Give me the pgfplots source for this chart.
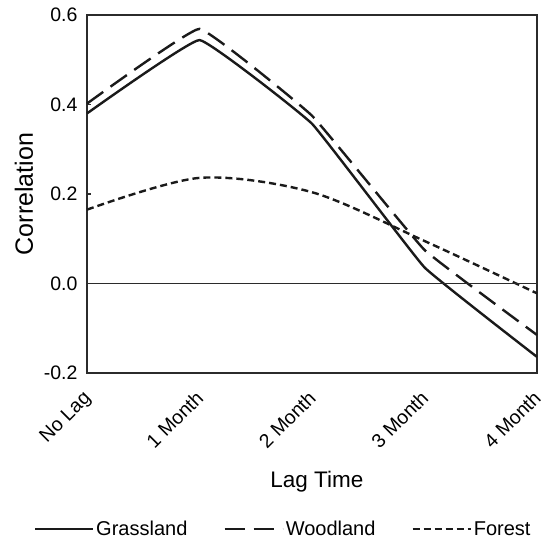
\documentclass[border=0pt]{standalone}
\usepackage{fontspec}
\setmainfont{Liberation Sans}
\usepackage{pgfplots}
\pgfplotsset{compat=1.18}
\definecolor{ln}{HTML}{1A1A1A}
\definecolor{fr}{HTML}{2B2B2B}
\begin{document}
\begin{tikzpicture}
\begin{axis}[
  width=450bp, height=358bp, scale only axis,
  xmin=0, xmax=4, ymin=-0.2, ymax=0.6,
  xtick={0,1,2,3,4},
  xticklabels={No Lag,1 Month,2 Month,3 Month,4 Month},
  ytick={-0.2,0,0.2,0.4,0.6},
  yticklabel style={/pgf/number format/fixed, /pgf/number format/fixed zerofill, /pgf/number format/precision=1, xshift=-6bp},
  /pgf/number format/assume math mode=true,
  tick label style={font=\fontsize{19.5bp}{22bp}\selectfont},
  xticklabel style={rotate=45, anchor=north east, inner sep=0pt, xshift=-15bp, yshift=-8bp},
  ylabel={Correlation},
  xlabel={Lag Time},
  ylabel style={at={(rel axis cs:-0.14,0.5)}, anchor=center, font=\fontsize{25bp}{27bp}\selectfont},
  xlabel style={at={(rel axis cs:0.511,0)}, anchor=center, yshift=-109bp, font=\fontsize{22.5bp}{25bp}\selectfont},
  axis line style={fr, line width=1.8bp},
  major tick length=4bp,
  x tick style={draw=none},
  y tick style={fr, line width=1.4bp},
  ytick pos=left,
  tick align=inside,
  legend columns=3,
  legend style={draw=none, at={(0.436,-0.436)}, anchor=center,
    font=\fontsize{20bp}{22bp}\selectfont,
    /tikz/every even column/.append style={column sep=34bp}},
  legend image code/.code={\draw[#1] (0bp,0bp) -- (58bp,0bp);},
  clip=false,
]
\addplot[ln, line width=2.4bp, smooth, tension=0.15] coordinates {(0,0.380) (1,0.544) (2,0.357) (3,0.036) (4,-0.164)};
\addlegendentry{Grassland}
\addplot[ln, line width=2.4bp, smooth, tension=0.15, dash pattern=on 20bp off 9bp] coordinates {(0,0.402) (1,0.569) (2,0.375) (3,0.075) (4,-0.115)};
\addlegendentry{Woodland}
\addplot[ln, line width=2.4bp, smooth, tension=0.5, dash pattern=on 7bp off 4bp] coordinates {(0,0.165) (1,0.236) (2,0.204) (3,0.095) (4,-0.022)};
\addlegendentry{Forest}
\draw[fr, line width=1.7bp] (axis cs:0,0) -- (axis cs:4,0);
\end{axis}
\pgfresetboundingbox
\path (-87bp,-170bp) rectangle (461bp,373bp);
\end{tikzpicture}
\end{document}
